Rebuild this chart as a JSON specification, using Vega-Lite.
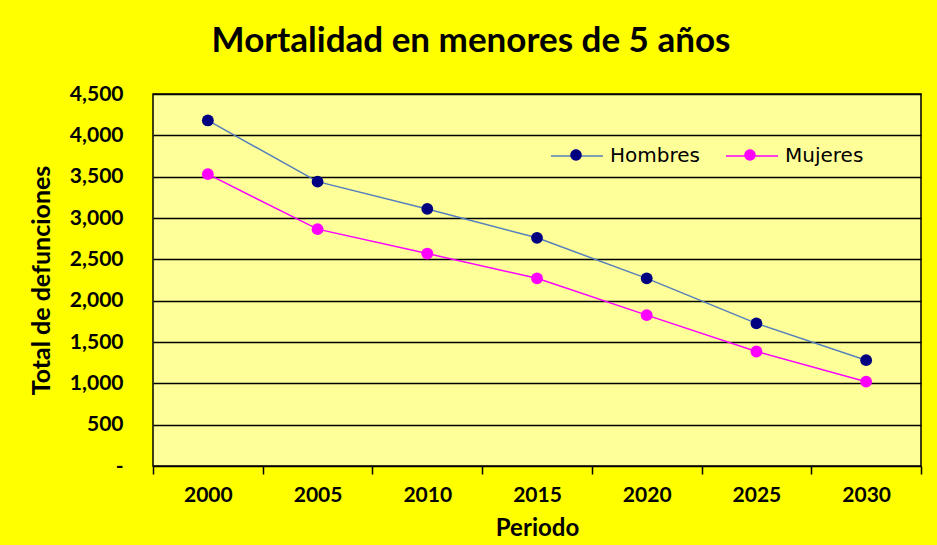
{
  "$schema": "https://vega.github.io/schema/vega-lite/v6.json",
  "autosize": "none",
  "width": 768,
  "height": 372,
  "padding": {"left": 153, "top": 94, "right": 16, "bottom": 79},
  "background": "#FFFF00",
  "title": {
    "text": "Mortalidad en menores de 5 años",
    "font": "Lato",
    "fontSize": 35,
    "fontWeight": "bold",
    "color": "#000000",
    "anchor": "middle",
    "frame": "group",
    "offset": 24,
    "dx": -66
  },
  "config": {
    "view": {"fill": "#FFFF99", "stroke": "#000000", "strokeWidth": 1.5},
    "axis": {
      "labelFont": "Lato",
      "titleFont": "Lato",
      "labelColor": "#000000",
      "titleColor": "#000000"
    }
  },
  "data": {
    "values": [
      {"periodo": "2000", "sexo": "Hombres", "total": 4180},
      {"periodo": "2005", "sexo": "Hombres", "total": 3440},
      {"periodo": "2010", "sexo": "Hombres", "total": 3110},
      {"periodo": "2015", "sexo": "Hombres", "total": 2760},
      {"periodo": "2020", "sexo": "Hombres", "total": 2270},
      {"periodo": "2025", "sexo": "Hombres", "total": 1725},
      {"periodo": "2030", "sexo": "Hombres", "total": 1280},
      {"periodo": "2000", "sexo": "Mujeres", "total": 3530},
      {"periodo": "2005", "sexo": "Mujeres", "total": 2865},
      {"periodo": "2010", "sexo": "Mujeres", "total": 2570},
      {"periodo": "2015", "sexo": "Mujeres", "total": 2270},
      {"periodo": "2020", "sexo": "Mujeres", "total": 1825},
      {"periodo": "2025", "sexo": "Mujeres", "total": 1385},
      {"periodo": "2030", "sexo": "Mujeres", "total": 1020}
    ]
  },
  "encoding": {
    "x": {
      "field": "periodo",
      "type": "ordinal",
      "bandPosition": 0.5,
      "scale": {"type": "band", "paddingInner": 0, "paddingOuter": 0},
      "axis": {
        "title": "Periodo",
        "labelAngle": 0,
        "labelFontSize": 21,
        "labelFontWeight": "bold",
        "labelPadding": 10,
        "tickBand": "extent",
        "tickSize": 8,
        "tickColor": "#000000",
        "tickWidth": 1.5,
        "domain": false,
        "grid": false,
        "titleFontSize": 24,
        "titleFontWeight": "bold",
        "titlePadding": 11
      }
    },
    "y": {
      "field": "total",
      "type": "quantitative",
      "scale": {"domain": [0, 4500], "nice": false},
      "axis": {
        "title": "Total de defunciones",
        "values": [0, 500, 1000, 1500, 2000, 2500, 3000, 3500, 4000, 4500],
        "labelExpr": "datum.value == 0 ? '-\u00a0\u00a0\u00a0' : format(datum.value, ',')",
        "labelFontSize": 21,
        "labelFontWeight": "bold",
        "labelPadding": 30,
        "ticks": false,
        "domain": false,
        "grid": true,
        "gridColor": "#000000",
        "gridWidth": 1.5,
        "gridOpacity": 1,
        "titleFontSize": 25,
        "titleFontWeight": "bold",
        "titlePadding": 15
      }
    }
  },
  "layer": [
    {
      "mark": {"type": "line", "strokeWidth": 1.5},
      "encoding": {
        "color": {
          "field": "sexo",
          "type": "nominal",
          "scale": {"domain": ["Hombres", "Mujeres"], "range": ["#5580bb", "#FF00FF"]},
          "legend": {
            "title": null,
            "orient": "none",
            "direction": "horizontal",
            "legendX": 397,
            "legendY": 35,
            "padding": 0,
            "symbolType": "M-1,0H1",
            "symbolSize": 2704,
            "symbolStrokeWidth": 1.5,
            "labelFont": "DejaVu Sans",
            "labelFontSize": 20,
            "labelColor": "#000000",
            "labelOffset": 6,
            "columnPadding": 23
          }
        }
      }
    },
    {
      "mark": {"type": "point", "filled": true, "opacity": 1, "size": 140, "shape": "circle"},
      "encoding": {
        "color": {
          "field": "sexo",
          "type": "nominal",
          "scale": {"domain": ["Hombres", "Mujeres"], "range": ["#000080", "#FF00FF"]},
          "legend": {
            "title": null,
            "orient": "none",
            "direction": "horizontal",
            "legendX": 397,
            "legendY": 35,
            "padding": 0,
            "symbolType": "M-0.22,0a0.22,0.22 0 1,0 0.44,0a0.22,0.22 0 1,0 -0.44,0",
            "symbolSize": 2704,
            "symbolOpacity": 1,
            "symbolStrokeWidth": 0,
            "labelExpr": "''",
            "labelFontSize": 20,
            "labelOffset": 6,
            "columnPadding": 116
          }
        }
      }
    }
  ],
  "resolve": {"scale": {"color": "independent"}, "legend": {"color": "independent"}}
}
